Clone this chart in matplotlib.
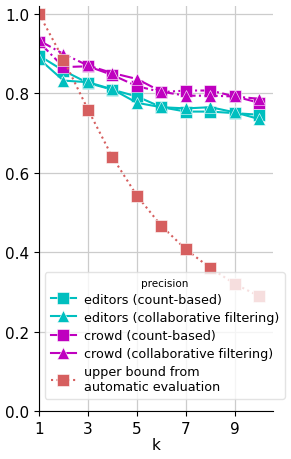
import matplotlib
matplotlib.use('Agg')
import matplotlib.pyplot as plt

k = [1, 2, 3, 4, 5, 6, 7, 8, 9, 10]

editors_count = [0.895, 0.857, 0.826, 0.809, 0.792, 0.765, 0.754, 0.754, 0.750, 0.746]
editors_cf = [0.887, 0.832, 0.828, 0.810, 0.776, 0.765, 0.762, 0.765, 0.752, 0.735]
crowd_count = [0.929, 0.866, 0.868, 0.846, 0.818, 0.803, 0.807, 0.807, 0.792, 0.776]
crowd_cf = [0.933, 0.899, 0.870, 0.851, 0.836, 0.804, 0.794, 0.794, 0.792, 0.786]
upper_bound = [1.0, 0.885, 0.759, 0.639, 0.542, 0.466, 0.407, 0.360, 0.320, 0.289]

cyan = '#00bfbf'
magenta = '#bf00bf'
red = '#d65f5f'

fig = plt.figure(figsize=(2.91, 4.6), dpi=100)
ax = fig.add_axes([0.134, 0.104, 0.804, 0.881])

ms = 8
ax.plot(k, editors_count, '-', marker='s', color=cyan, ms=ms, lw=1.5,
        mec='white', mew=0.4, label='editors (count-based)')
ax.plot(k, editors_cf, '-', marker='^', color=cyan, ms=ms, lw=1.5,
        mec='white', mew=0.4, label='editors (collaborative filtering)')
ax.plot(k, crowd_count, '-.', marker='s', color=magenta, ms=ms, lw=1.5,
        mec='white', mew=0.4, label='crowd (count-based)')
ax.plot(k, crowd_cf, '-.', marker='^', color=magenta, ms=ms, lw=1.5,
        mec='white', mew=0.4, label='crowd (collaborative filtering)')
ax.plot(k, upper_bound, ':', marker='s', color=red, ms=ms, lw=1.5,
        mec='white', mew=0.4, label='upper bound from\nautomatic evaluation')

ax.set_xlim(1, 10.55)
ax.set_ylim(0, 1.02)
ax.set_xticks([1, 3, 5, 7, 9])
ax.set_yticks([0.0, 0.2, 0.4, 0.6, 0.8, 1.0])
ax.grid(True, color='#cccccc', lw=0.9)
ax.set_axisbelow(True)
for s in ['top', 'right']:
    ax.spines[s].set_visible(False)
ax.tick_params(labelsize=11, length=3.5, width=0.8)
ax.set_xlabel('k', fontsize=11, labelpad=1)

leg = ax.legend(title='precision', fontsize=9.2, title_fontsize=7.5,
                loc='lower left', bbox_to_anchor=(0.025, 0.03),
                borderaxespad=0, framealpha=0.8, handlelength=2.0,
                labelspacing=0.4, handletextpad=0.6, borderpad=0.45)
leg.get_frame().set_edgecolor('#dddddd')
# handles in the legend show solid lines for the crowd series
for line in leg.get_lines()[2:4]:
    line.set_linestyle('-')

fig.savefig('out.png', dpi=100)
